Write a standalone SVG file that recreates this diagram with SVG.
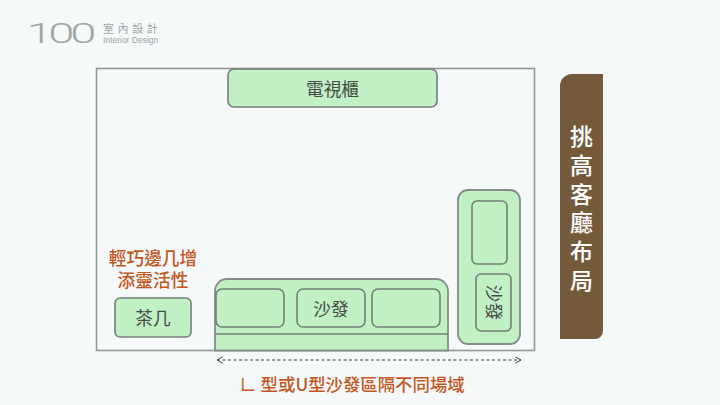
<svg xmlns="http://www.w3.org/2000/svg" width="720" height="405" viewBox="0 0 720 405">
<style>
text{font-family:"Noto Sans CJK TC","Noto Sans CJK SC",sans-serif;text-anchor:middle}
.g{fill:#c1f0c5;stroke:#737f77;stroke-width:1.6}
.o{fill:#c1f0c5;stroke:#868d88;stroke-width:1.8}
.d{fill:#454a47;font-size:17.7px}
.r{fill:#c4561f;font-size:17.7px;font-weight:500}
.w{fill:#fff;font-size:23px;font-weight:500}
.l{fill:#a3a5a5}
</style>
<defs><marker id="a" markerWidth="8" markerHeight="8" refX="6.5" refY="3.5" orient="auto-start-reverse" markerUnits="userSpaceOnUse"><path d="M1 .5L6.5 3.5L1 6.5" fill="none" stroke="#444" stroke-width="1"/></marker></defs>
<rect width="720" height="405" fill="#f5f9fa"/>
<g id="logo">
<text class="l" x="0" y="0" transform="translate(26.500 43) scale(1.75 1)" style="text-anchor:start;font-family:Roboto,sans-serif;font-weight:300;font-size:27px;letter-spacing:-2.500px">100</text>
<text class="l" x="103" y="33" style="text-anchor:start;font-size:11px;letter-spacing:3.600px">室內設計</text>
<text class="l" x="103" y="43" style="text-anchor:start;font-family:'Liberation Sans',sans-serif;font-size:8.500px">Interior Design</text>
</g>
<g id="room"><rect x="96.500" y="68.500" width="438" height="282" fill="none" stroke="#939695" stroke-width="1.600"/></g>
<g id="tv"><rect class="g" x="228" y="69" width="209" height="38" rx="6"/><text class="d" x="332.500" y="95.500">電視櫃</text></g>
<g id="side-label"><path d="M572 74H603V331a8 8 0 0 1-8 8H560V86a12 12 0 0 1 12-12Z" fill="#745a3a"/>
<text class="w" x="581.500" y="145">挑</text><text class="w" x="581.500" y="174">高</text><text class="w" x="581.500" y="202.500">客</text><text class="w" x="581.500" y="231">廳</text><text class="w" x="581.500" y="260">布</text><text class="w" x="581.500" y="288.500">局</text></g>
<g id="table-note"><text class="r" x="153" y="265">輕巧邊几增</text><text class="r" x="153" y="287">添靈活性</text></g>
<g id="table"><rect class="g" x="115" y="298" width="76" height="39" rx="5"/><text class="d" x="153" y="325">茶几</text></g>
<g id="sofa-bottom">
<path class="o" d="M215 350.500V291a12 12 0 0 1 12-12H436a12 12 0 0 1 12 12V350.500Z"/>
<path d="M215 334H448" stroke="#737f77" stroke-width="1.600" fill="none"/>
<rect class="g" x="216" y="289" width="68" height="38" rx="6"/>
<rect class="g" x="297" y="289" width="68" height="38" rx="6"/>
<rect class="g" x="372" y="289" width="68" height="38" rx="6"/>
<text class="d" x="331" y="316">沙發</text>
</g>
<g id="sofa-side">
<rect class="o" x="458" y="190" width="62" height="154" rx="10"/>
<rect class="g" x="472" y="201" width="35" height="63" rx="5"/>
<rect class="g" x="476" y="274" width="35" height="57" rx="5"/>
<text class="d" x="0" y="0" transform="translate(487 302.500) rotate(90)">沙發</text>
</g>
<g id="connectors"><path d="M217 360H521" fill="none" stroke="#444" stroke-width="1" stroke-dasharray="3 2.500" marker-start="url(#a)" marker-end="url(#a)"/></g>
<g id="sofa-note"><text class="r" x="352" y="391" style="font-size:17.400px">∟ 型或U型沙發區隔不同場域</text></g>
</svg>
